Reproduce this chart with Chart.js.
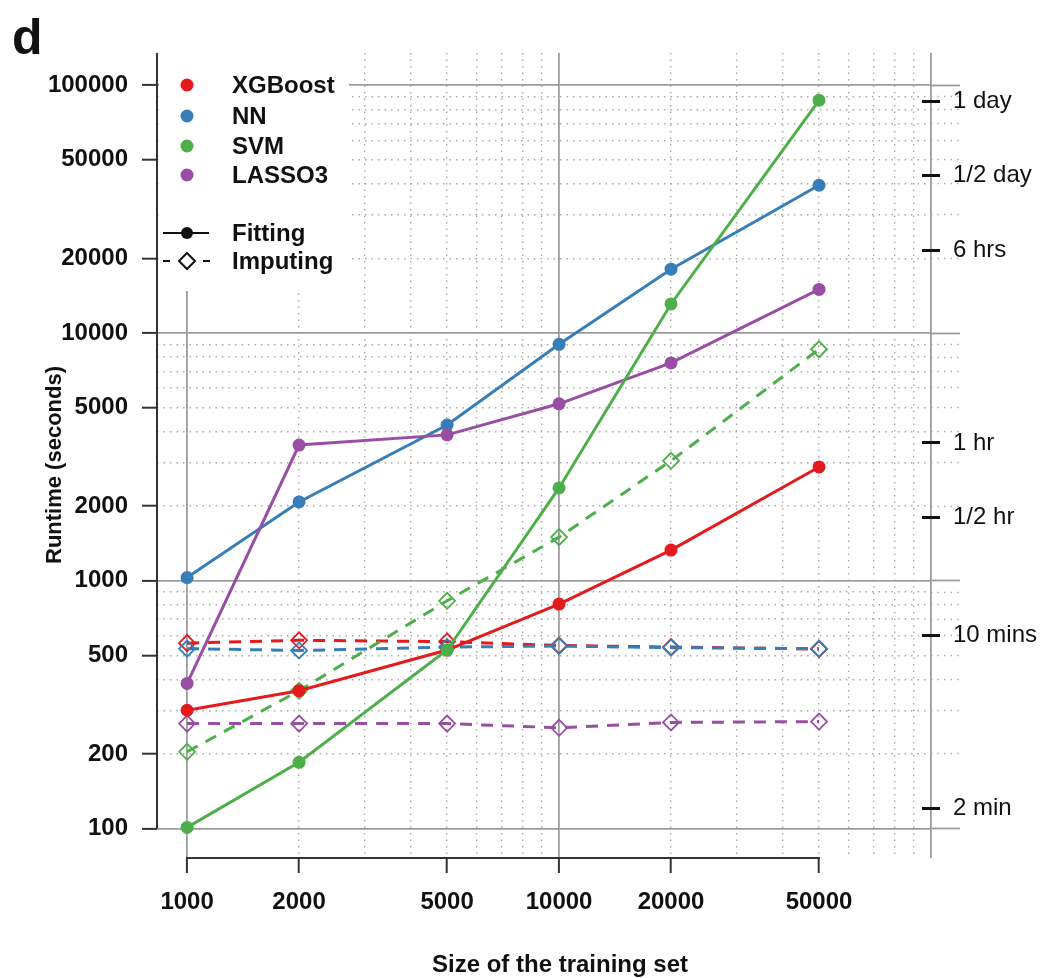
<!DOCTYPE html>
<html>
<head>
<meta charset="utf-8">
<script src="https://cdn.jsdelivr.net/npm/chart.js@4/dist/chart.umd.min.js"></script>
<style>
  html, body { margin: 0; padding: 0; background: #ffffff; }
  #wrap { width: 1043px; height: 978px; position: relative; }
</style>
</head>
<body>
<div id="wrap"><canvas id="c" width="1043" height="978"></canvas></div>
<script>
// ---------------- data ----------------
const sizes = [1000, 2000, 5000, 10000, 20000, 50000];
const methods = ['XGBoost', 'NN', 'SVM', 'LASSO3'];
const methodColors = ['#E41A1C', '#377EB8', '#4DAF4A', '#984EA3'];

const xgbFit    = [300, 360, 525, 805, 1330, 2880];
const xgbImpute = [560, 575, 568, 548, 540, 530];
const nnFit     = [1030, 2080, 4250, 9000, 18100, 39500];
const nnImpute  = [532, 523, 540, 545, 537, 532];
const svmFit    = [101, 185, 525, 2370, 13100, 87000];
const svmImpute = [204, 360, 830, 1500, 3050, 8600];
const lassoFit    = [385, 3530, 3880, 5180, 7570, 15000];
const lassoImpute = [265, 265, 265, 255, 268, 270];

const xTickLabels = [1000, 2000, 5000, 10000, 20000, 50000];
const yTickLabels = [100, 200, 500, 1000, 2000, 5000, 10000, 20000, 50000, 100000];
const timeTickValues = [86400, 43200, 21600, 3600, 1800, 600, 120];
const timeTickLabels = ['1 day', '1/2 day', '6 hrs', '1 hr', '1/2 hr', '10 mins', '2 min'];

const xGridValues = [1000, 2000, 3000, 4000, 5000, 6000, 7000, 8000, 9000,
                     10000, 20000, 30000, 40000, 50000, 60000, 70000, 80000, 90000, 100000];
const yGridValues = [100, 200, 300, 400, 500, 600, 700, 800, 900,
                     1000, 2000, 3000, 4000, 5000, 6000, 7000, 8000, 9000,
                     10000, 20000, 30000, 40000, 50000, 60000, 70000, 80000, 90000, 100000];

const X_MIN = 830, X_MAX = 100000;
const Y_MIN = 76, Y_MAX = 135000;

// ---------------- style ----------------
const FONT = "'Liberation Sans', Arial, Helvetica, sans-serif";
Chart.defaults.font.family = FONT;
Chart.defaults.color = '#111111';

const GRID_MAJOR = '#9c9c9c';
const GRID_MINOR = '#a9a9a9';
const MINOR_DASH = [1.5, 5];
const isDecade = v => Math.abs(Math.log10(v) - Math.round(Math.log10(v))) < 1e-9;
const tickVal = ctx => (ctx && ctx.tick) ? ctx.tick.value : null;
const setTicks = values => scale => { scale.ticks = values.map(v => ({ value: v })); };

function gridColor(ctx) { const v = tickVal(ctx); return v !== null && isDecade(v) ? GRID_MAJOR : GRID_MINOR; }
function gridWidth(ctx) { const v = tickVal(ctx); return v !== null && isDecade(v) ? 1.8 : 1.4; }
function gridDash(ctx) { const v = tickVal(ctx); return v !== null && !isDecade(v) ? MINOR_DASH : []; }

// ---------------- datasets ----------------
const fitSeries = [xgbFit, nnFit, svmFit, lassoFit];
const impSeries = [xgbImpute, nnImpute, svmImpute, lassoImpute];
const fitOrder = [3, 2, 0, 1];
const impOrder = [7, 4, 6, 5];

const datasets = [];
methods.forEach((m, i) => {
  datasets.push({
    label: m + ' fitting',
    data: sizes.map((s, k) => ({ x: s, y: fitSeries[i][k] })),
    borderColor: methodColors[i],
    backgroundColor: methodColors[i],
    borderWidth: 3,
    pointStyle: 'circle',
    pointRadius: 6.5,
    pointBorderWidth: 0,
    pointBackgroundColor: methodColors[i],
    tension: 0,
    order: fitOrder[i]
  });
});
methods.forEach((m, i) => {
  datasets.push({
    label: m + ' imputing',
    data: sizes.map((s, k) => ({ x: s, y: impSeries[i][k] })),
    borderColor: methodColors[i],
    backgroundColor: 'rgba(0,0,0,0)',
    borderWidth: 3,
    borderDash: [12, 9],
    pointStyle: 'rectRot',
    pointRadius: 8,
    pointBorderWidth: 1.8,
    pointBorderColor: methodColors[i],
    pointBackgroundColor: 'rgba(0,0,0,0)',
    tension: 0,
    order: impOrder[i]
  });
});

// ---------------- decorations (R-style axis lines, legend, titles) ----------------
const decor = {
  id: 'decor',
  beforeDatasetsDraw(chart) {
    const { ctx, chartArea, scales } = chart;
    const x = scales.x, y = scales.y;
    ctx.save();
    // legend background
    ctx.fillStyle = '#ffffff';
    ctx.fillRect(chartArea.left + 2, chartArea.top, 190, 238);
    // R-style axis lines
    ctx.strokeStyle = '#333333';
    ctx.lineWidth = 2;
    ctx.beginPath();
    ctx.moveTo(chartArea.left, chartArea.top);
    ctx.lineTo(chartArea.left, y.getPixelForValue(yTickLabels[0]));
    ctx.stroke();
    ctx.beginPath();
    ctx.moveTo(x.getPixelForValue(xTickLabels[0]) - 1, chartArea.bottom);
    ctx.lineTo(x.getPixelForValue(xTickLabels[xTickLabels.length - 1]) + 1, chartArea.bottom);
    ctx.stroke();

    // legend entries
    const lx = chartArea.left + 30;   // marker centre
    const tx = chartArea.left + 75;   // text start
    const rows = [85, 116, 146, 175];
    ctx.font = 'bold 24px ' + FONT;
    ctx.textBaseline = 'middle';
    ctx.textAlign = 'left';
    methods.forEach((m, i) => {
      ctx.fillStyle = methodColors[i];
      ctx.beginPath();
      ctx.arc(lx, rows[i], 6.5, 0, Math.PI * 2);
      ctx.fill();
      ctx.fillStyle = '#111111';
      ctx.fillText(m, tx, rows[i] + 1);
    });
    // Fitting
    const fy = 233;
    ctx.strokeStyle = '#111111';
    ctx.lineWidth = 2;
    ctx.beginPath(); ctx.moveTo(lx - 24, fy); ctx.lineTo(lx + 22, fy); ctx.stroke();
    ctx.fillStyle = '#111111';
    ctx.beginPath(); ctx.arc(lx, fy, 6, 0, Math.PI * 2); ctx.fill();
    ctx.fillText('Fitting', tx, fy + 1);
    // Imputing
    const iy = 261;
    ctx.beginPath(); ctx.moveTo(lx - 24, iy); ctx.lineTo(lx - 17, iy); ctx.stroke();
    ctx.beginPath(); ctx.moveTo(lx + 16, iy); ctx.lineTo(lx + 23, iy); ctx.stroke();
    ctx.beginPath();
    ctx.moveTo(lx, iy - 8); ctx.lineTo(lx + 8, iy); ctx.lineTo(lx, iy + 8); ctx.lineTo(lx - 8, iy); ctx.closePath();
    ctx.stroke();
    ctx.fillText('Imputing', tx, iy + 1);
    ctx.restore();
  },
  afterDraw(chart) {
    const { ctx } = chart;
    ctx.save();
    ctx.fillStyle = '#111111';
    ctx.textAlign = 'center';
    ctx.textBaseline = 'alphabetic';
    ctx.font = 'bold 24px ' + FONT;
    ctx.fillText('Size of the training set', 560, 972);
    // y axis title
    ctx.save();
    ctx.translate(55, 465);
    ctx.rotate(-Math.PI / 2);
    ctx.textBaseline = 'middle';
    ctx.font = 'bold 22px ' + FONT;
    ctx.fillText('Runtime (seconds)', 0, 0);
    ctx.restore();
    ctx.textAlign = 'left';
    ctx.font = 'bold 50px ' + FONT;
    ctx.fillText('d', 12, 54);
    ctx.restore();
  }
};

// ---------------- chart ----------------
new Chart(document.getElementById('c'), {
  type: 'line',
  data: { datasets },
  plugins: [decor],
  options: {
    responsive: false,
    animation: false,
    events: [],
    layout: { padding: { top: 53, left: 0, right: 0, bottom: 0 } },
    plugins: { legend: { display: false }, tooltip: { enabled: false }, title: { display: false } },
    scales: {
      x: {
        type: 'logarithmic', position: 'bottom', min: X_MIN, max: X_MAX, bounds: 'data',
        afterBuildTicks: setTicks(xGridValues),
        afterFit: s => { s.height = 120; },
        ticks: {
          autoSkip: false, maxRotation: 0, minRotation: 0, padding: 15,
          font: { size: 24, weight: 'bold' }, color: '#111111',
          callback: v => xTickLabels.includes(v) ? String(v) : ''
        },
        grid: {
          color: gridColor, lineWidth: gridWidth,
          drawTicks: true, tickLength: 15, tickWidth: 2,
          tickColor: ctx => xTickLabels.includes(tickVal(ctx)) ? '#333333' : 'rgba(0,0,0,0)',
          tickBorderDash: []
        },
        border: { display: false, dash: gridDash }
      },
      y: {
        type: 'logarithmic', position: 'left', min: Y_MIN, max: Y_MAX, bounds: 'data',
        afterBuildTicks: setTicks(yGridValues),
        afterFit: s => { s.width = 157; },
        ticks: {
          autoSkip: false, padding: 14,
          font: { size: 24, weight: 'bold' }, color: '#111111',
          callback: v => yTickLabels.includes(v) ? String(v) : ''
        },
        grid: {
          color: gridColor, lineWidth: gridWidth,
          drawTicks: true, tickLength: 15, tickWidth: 2,
          tickColor: ctx => yTickLabels.includes(tickVal(ctx)) ? '#333333' : 'rgba(0,0,0,0)',
          tickBorderDash: []
        },
        border: { display: false, dash: gridDash }
      },
      yExt: {
        axis: 'y', type: 'logarithmic', position: 'right', weight: 0,
        min: Y_MIN, max: Y_MAX, bounds: 'data',
        afterBuildTicks: setTicks(yGridValues),
        afterFit: s => { s.width = 0; },
        ticks: { display: false, autoSkip: false },
        grid: {
          drawOnChartArea: false, drawTicks: true, tickLength: 29,
          tickColor: gridColor, tickWidth: gridWidth, tickBorderDash: gridDash
        },
        border: { display: false }
      },
      yTime: {
        axis: 'y', type: 'logarithmic', position: 'right', weight: 1,
        min: Y_MIN, max: Y_MAX, bounds: 'data',
        afterBuildTicks: setTicks(timeTickValues),
        afterFit: s => { s.width = 112; },
        ticks: {
          autoSkip: false, padding: 13,
          font: { size: 24, weight: 'normal' }, color: '#111111',
          callback: v => { const i = timeTickValues.indexOf(v); return i >= 0 ? timeTickLabels[i] : ''; }
        },
        grid: { drawOnChartArea: false, drawTicks: true, tickLength: 9, tickWidth: 3, tickColor: '#111111' },
        border: { display: false }
      },
      yTimeIn: {
        axis: 'y', type: 'logarithmic', position: { x: X_MAX },
        min: Y_MIN, max: Y_MAX, bounds: 'data',
        afterBuildTicks: setTicks(timeTickValues),
        afterFit: s => { s.width = 0; },
        ticks: { display: false, autoSkip: false },
        grid: { drawOnChartArea: false, drawTicks: true, tickLength: 9, tickWidth: 3, tickColor: '#111111' },
        border: { display: false }
      }
    }
  }
});
</script>
</body>
</html>
